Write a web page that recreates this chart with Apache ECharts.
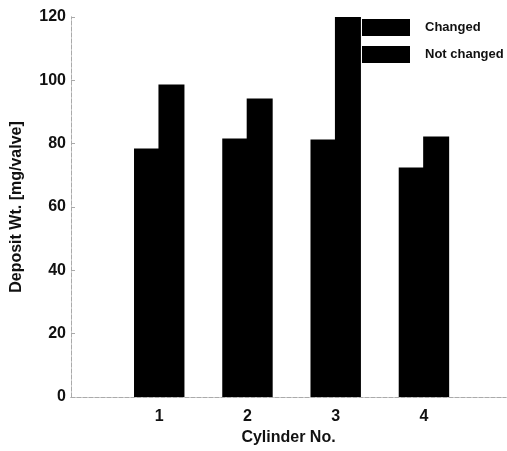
<!DOCTYPE html>
<html><head><meta charset="utf-8">
<script src="https://cdn.jsdelivr.net/npm/echarts@6/dist/echarts.min.js"></script>
<style>html,body{margin:0;padding:0;background:#fff}#c{width:507px;height:451px}</style>
</head><body><div id="c"></div>
<script>
const categories = [1, 2, 3, 4];
const changed = [78.5, 81.6, 81.3, 72.5];
const notChanged = [98.7, 94.3, 120, 82.3];
const yTicks = [0, 20, 40, 60, 80, 100, 120];

const chart = echarts.init(document.getElementById('c'));
const font = 'Liberation Sans, Arial, sans-serif';
const frame = {show: true, lineStyle: {color: '#aaa', type: 'dashed', width: 1}};
chart.setOption({
  animation: false,
  grid: {left: 71, right: 1, top: 17, bottom: 54},
  legend: {
    left: 357, top: 14, orient: 'vertical', itemWidth: 48, itemHeight: 17, itemGap: 10,
    icon: 'rect',
    itemStyle: {borderWidth: 0},
    textStyle: {fontFamily: font, fontSize: 13, fontWeight: 'bold', color: '#111', padding: [0, 0, 0, 10]},
    data: ['Changed', 'Not changed']
  },
  xAxis: [{
    type: 'value', min: 0, max: 4.93, interval: 1,
    axisLine: frame, axisTick: {show: false}, splitLine: {show: false},
    axisLabel: {margin: 12, fontFamily: font, fontSize: 16, fontWeight: 'bold', color: '#111',
      showMaxLabel: false,
      formatter: v => categories.includes(v) ? String(v) : ''},
    name: 'Cylinder No.', nameLocation: 'middle', nameGap: 32,
    nameTextStyle: {fontFamily: font, fontSize: 16, fontWeight: 'bold', color: '#111'}
  }, {
    type: 'value', position: 'top', min: 0, max: 4.93,
    axisLine: frame, axisTick: {show: false}, axisLabel: {show: false}, splitLine: {show: false}
  }],
  yAxis: [{
    type: 'value', min: 0, max: 120, interval: 20,
    axisLine: frame, axisTick: {show: true, inside: true, length: 4, lineStyle: {color: '#aaa'}},
    splitLine: {show: false},
    axisLabel: {margin: 5, fontFamily: font, fontSize: 16, fontWeight: 'bold', color: '#111',
      formatter: v => yTicks.includes(v) ? String(v) : ''},
    name: 'Deposit Wt. [mg/valve]', nameLocation: 'middle', nameGap: 46,
    nameTextStyle: {fontFamily: font, fontSize: 16, fontWeight: 'bold', color: '#111'}
  }, {
    type: 'value', position: 'right', min: 0, max: 120,
    axisLine: frame, axisTick: {show: false}, axisLabel: {show: false}, splitLine: {show: false}
  }],
  series: [{
    name: 'Changed', type: 'bar', barWidth: 26, barGap: '-6%',
    itemStyle: {color: '#000'},
    data: categories.map((c, i) => [c, changed[i]])
  }, {
    name: 'Not changed', type: 'bar', barWidth: 26, barGap: '-6%',
    itemStyle: {color: '#000'},
    data: categories.map((c, i) => [c, notChanged[i]])
  }]
});
</script></body></html>
